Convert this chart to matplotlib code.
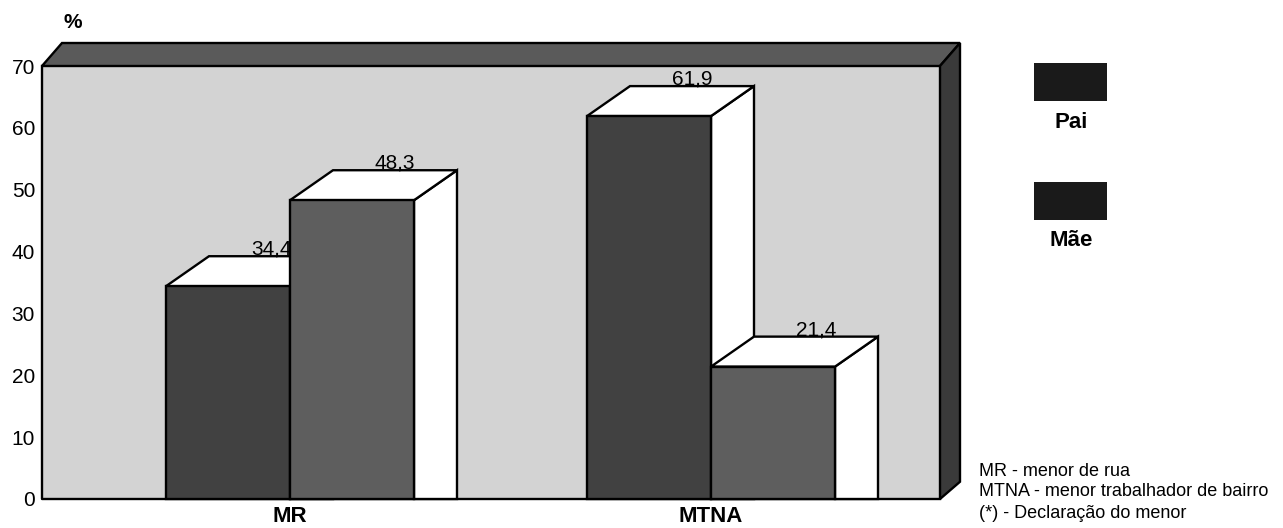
import matplotlib.pyplot as plt
from matplotlib.patches import Polygon

plt.rcParams['font.family'] = ['Liberation Sans', 'DejaVu Sans']

categories = ['MR', 'MTNA']
series = ['Pai', 'Mãe']
pai = [34.4, 61.9]
mae = [48.3, 21.4]
yticks = [0, 10, 20, 30, 40, 50, 60, 70]
notes = ['MR - menor de rua', 'MTNA - menor trabalhador de bairro', '(*) - Declaração do menor']

W, H = 1283, 528
fig = plt.figure(figsize=(W / 100, H / 100), dpi=100)
# front plane of the box: x 42..940 px, y 66..499 px
ax = fig.add_axes([42 / W, (H - 499) / H, (940 - 42) / W, (499 - 66) / H])

px_x = 421.0            # pixels per category step
px_y = 433.0 / 70       # pixels per percent
xmin = -(290 - 42) / px_x
xmax = 1 + (940 - 711) / px_x
ax.set_xlim(xmin, xmax)
ax.set_ylim(0, 70)

bw = 124 / px_x                     # bar width
bdx, bdy = 43 / px_x, 30 / px_y     # bar depth
wdx, wdy = 20 / px_x, 23 / px_y     # wall depth

ax.set_facecolor('#d3d3d3')
for s in ax.spines.values():
    s.set_visible(False)

lw = 1.7
kw = dict(clip_on=False, edgecolor='black', linewidth=lw, joinstyle='miter')

# top band and right wall
ax.add_patch(Polygon([(xmin, 70), (xmax, 70), (xmax + wdx, 70 + wdy), (xmin + wdx, 70 + wdy)],
                     facecolor='#5a5a5a', zorder=1, **kw))
ax.add_patch(Polygon([(xmax, 70), (xmax + wdx, 70 + wdy), (xmax + wdx, wdy * 0.75), (xmax, 0)],
                     facecolor='#3a3a3a', zorder=1, **kw))
ax.plot([xmin, xmin, xmax], [70, 0, 0], color='black', lw=lw, clip_on=False, zorder=2)


def bar3d(x0, h, color, z):
    x1 = x0 + bw
    ax.add_patch(Polygon([(x1, 0), (x1, h), (x1 + bdx, h + bdy), (x1 + bdx, 0)],
                         facecolor='white', zorder=z, **kw))
    ax.add_patch(Polygon([(x0, h), (x1, h), (x1 + bdx, h + bdy), (x0 + bdx, h + bdy)],
                         facecolor='white', zorder=z, **kw))
    ax.add_patch(Polygon([(x0, 0), (x1, 0), (x1, h), (x0, h)],
                         facecolor=color, zorder=z, **kw))
    ax.text(x0 + bw / 2 + bdx, h + bdy - 0.4, f'{h:.1f}'.replace('.', ','),
            ha='center', va='bottom', fontsize=15, zorder=10)


for i in range(len(categories)):
    bar3d(i - bw, pai[i], '#414141', 3)
    bar3d(i, mae[i], '#5e5e5e', 4)

ax.set_yticks(yticks)
ax.set_yticklabels([str(t) for t in yticks], fontsize=15)
ax.set_xticks(range(len(categories)))
ax.set_xticklabels(categories, fontsize=16, fontweight='bold')
ax.tick_params(axis='both', length=0)
ax.tick_params(axis='y', pad=5)
ax.tick_params(axis='x', pad=5)

fig.text(73 / W, 1 - 22 / H, '%', ha='center', va='center', fontsize=15, fontweight='bold')

# legend
for j, (name, yc) in enumerate(zip(series, [82, 201])):
    fig.patches.append(plt.Rectangle((1034 / W, 1 - (yc + 19) / H), 73 / W, 38 / H,
                                     transform=fig.transFigure, facecolor='#1a1a1a',
                                     edgecolor='none'))
    fig.text(1071 / W, 1 - (yc + 40) / H, name, ha='center', va='center',
             fontsize=16, fontweight='bold')

for k, line in enumerate(notes):
    fig.text(979 / W, 1 - (471 + 21 * k) / H, line, ha='left', va='center', fontsize=13)

fig.savefig('out.png', dpi=100)
